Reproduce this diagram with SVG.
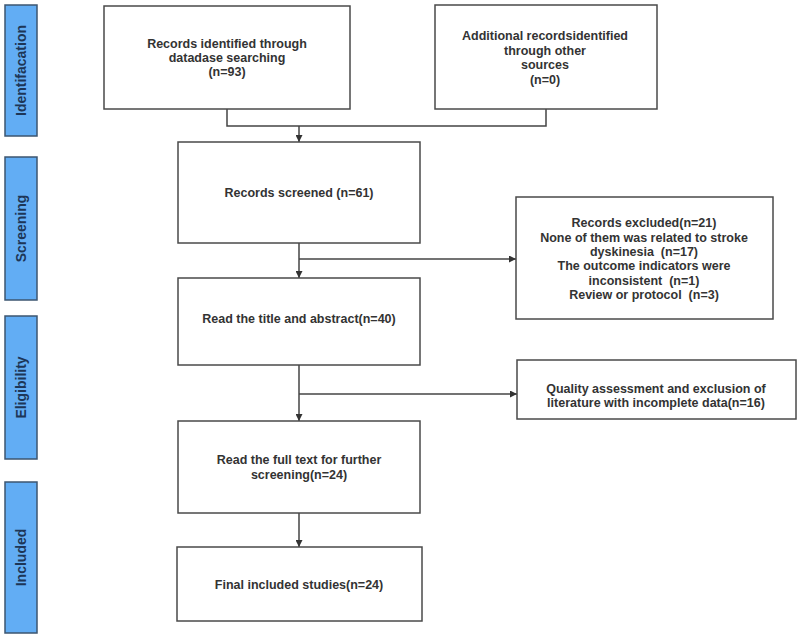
<svg xmlns="http://www.w3.org/2000/svg" width="800" height="640" viewBox="0 0 800 640">
<defs>
<style>
.band{fill:#62adf4;stroke:#3d5670;stroke-width:1.5}
.bl{font-family:"Liberation Sans",Arial,sans-serif;font-weight:bold;font-size:14px;fill:#1d3657;text-anchor:middle;dominant-baseline:central}
.box{fill:#fff;stroke:#4a4a4a;stroke-width:1.5}
.t{font-family:"Liberation Sans",Arial,sans-serif;font-weight:bold;font-size:12.5px;fill:#333;text-anchor:middle;dominant-baseline:central;white-space:pre}
.c{fill:none;stroke:#444;stroke-width:1.5}
</style>
<marker id="ah" viewBox="0 0 10 10" refX="10" refY="5" markerWidth="7" markerHeight="7" orient="auto" markerUnits="userSpaceOnUse">
<path d="M0,0 L10,5 L0,10 z" fill="#333"/>
</marker>
</defs>
<rect width="800" height="640" fill="#fff"/>
<g id="band-identification"><rect class="band" x="5" y="5" width="32" height="131"/><text class="bl" transform="translate(21,70.5) rotate(-90)">Identifacation</text></g>
<g id="band-screening"><rect class="band" x="5" y="157" width="32" height="143"/><text class="bl" transform="translate(21,228.5) rotate(-90)">Screening</text></g>
<g id="band-eligibility"><rect class="band" x="5" y="316" width="32" height="143"/><text class="bl" transform="translate(21,387.5) rotate(-90)">Eligibility</text></g>
<g id="band-included"><rect class="band" x="5" y="482" width="32" height="151"/><text class="bl" transform="translate(21,557.5) rotate(-90)">Included</text></g>

<g id="connectors">
<path class="c" d="M227,109 V126 H546 V109"/>
<path class="c" d="M299,126 V142" marker-end="url(#ah)"/>
<path class="c" d="M299,243 V278" marker-end="url(#ah)"/>
<path class="c" d="M299,259 H516" marker-end="url(#ah)"/>
<path class="c" d="M299,365 V421" marker-end="url(#ah)"/>
<path class="c" d="M299,394 H517" marker-end="url(#ah)"/>
<path class="c" d="M299,513 V547" marker-end="url(#ah)"/>
</g>

<g id="n-database"><rect class="box" x="104" y="6" width="246" height="103"/>
<text class="t" x="227" y="44">Records identified through</text>
<text class="t" x="227" y="58">datadase searching</text>
<text class="t" x="227" y="72">(n=93)</text></g>

<g id="n-other"><rect class="box" x="435" y="5" width="222" height="104"/>
<text class="t" x="545" y="36">Additional recordsidentified</text>
<text class="t" x="545" y="51">through other</text>
<text class="t" x="545" y="65">sources</text>
<text class="t" x="545" y="80">(n=0)</text></g>

<g id="n-screened"><rect class="box" x="178" y="142" width="242" height="101"/>
<text class="t" x="299" y="193">Records screened (n=61)</text></g>

<g id="n-excluded"><rect class="box" x="516" y="197" width="257" height="122"/>
<text class="t" x="644" y="223" xml:space="preserve">Records excluded(n=21)</text>
<text class="t" x="644" y="237.5" xml:space="preserve">None of them was related to stroke</text>
<text class="t" x="644" y="252" xml:space="preserve">dyskinesia  (n=17)</text>
<text class="t" x="644" y="266" xml:space="preserve">The outcome indicators were</text>
<text class="t" x="644" y="280.5" xml:space="preserve">inconsistent  (n=1)</text>
<text class="t" x="644" y="295" xml:space="preserve">Review or protocol  (n=3)</text></g>

<g id="n-title"><rect class="box" x="178" y="278" width="242" height="87"/>
<text class="t" x="299" y="319">Read the title and abstract(n=40)</text></g>

<g id="n-quality"><rect class="box" x="517" y="360" width="279" height="59"/>
<text class="t" x="656" y="389">Quality assessment and exclusion of</text>
<text class="t" x="656" y="403">literature with incomplete data(n=16)</text></g>

<g id="n-fulltext"><rect class="box" x="178" y="421" width="242" height="92"/>
<text class="t" x="299" y="460">Read the full text for further</text>
<text class="t" x="299" y="475">screening(n=24)</text></g>

<g id="n-final"><rect class="box" x="177" y="547" width="245" height="74"/>
<text class="t" x="299" y="585">Final included studies(n=24)</text></g>
</svg>
